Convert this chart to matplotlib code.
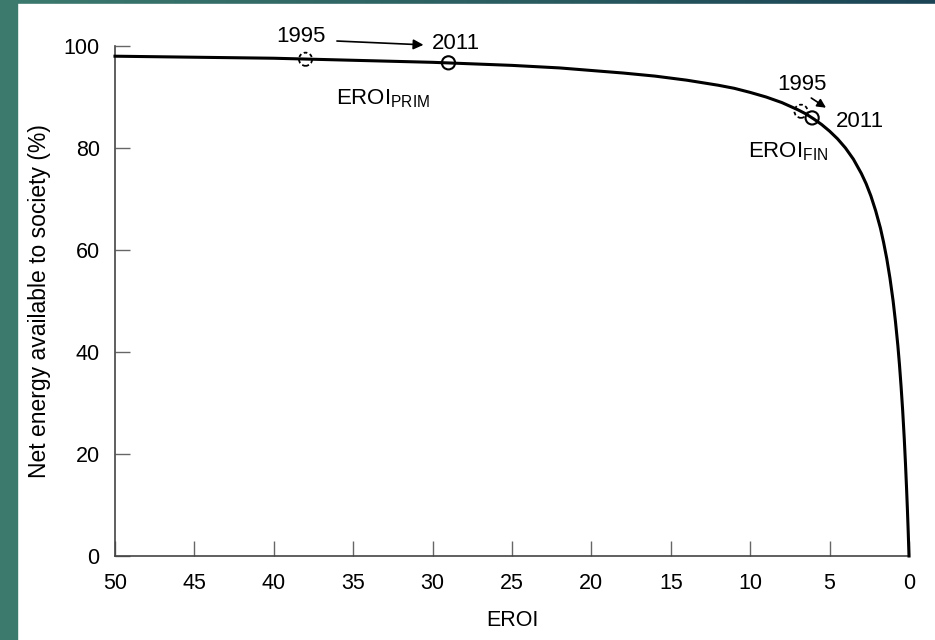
import numpy as np
import matplotlib
matplotlib.use("Agg")
import matplotlib.pyplot as plt

plt.rcParams['font.family'] = ['Liberation Sans', 'DejaVu Sans']

# curve points (EROI, net energy %)
eroi = [50, 45, 40, 35, 30, 25, 22, 20, 18, 16, 14, 12, 11, 10, 9, 8, 7.5, 7,
        6.5, 6, 5.5, 5, 4.5, 4, 3.5, 3, 2.7, 2.4, 2.1, 1.8, 1.6, 1.4, 1.2, 1,
        0.85, 0.7, 0.6, 0.5, 0.4, 0.3, 0.22, 0.15, 0.1, 0.05, 0]
net = [98.0, 97.8, 97.6, 97.2, 96.8, 96.2, 95.7, 95.2, 94.7, 94.1, 93.3, 92.3,
       91.7, 90.9, 90.0, 88.9, 88.2, 87.5, 86.7, 85.7, 84.6, 83.3, 81.8, 80.0,
       77.8, 75.0, 73.0, 70.6, 67.7, 64.3, 61.5, 58.3, 54.5, 50.0, 45.9, 41.2,
       37.5, 33.3, 28.6, 23.1, 18.0, 13.0, 9.1, 4.8, 0]

# marked points (EROI, net energy %)
prim_1995 = (38, 97.4)
prim_2011 = (29, 96.7)
fin_1995 = (6.8, 87.2)
fin_2011 = (6.1, 85.9)

xticks = [50, 45, 40, 35, 30, 25, 20, 15, 10, 5, 0]
yticks = [0, 20, 40, 60, 80, 100]

fig = plt.figure(figsize=(9.35, 6.4), dpi=100)

# slide background: teal strip on the left, gradient strip on top
bg = fig.add_axes([0, 0, 1, 1], zorder=-10)
grad = np.linspace(0, 1, 256)
c0 = np.array([0x3c, 0x7a, 0x6e]) / 255
c1 = np.array([0x1b, 0x44, 0x55]) / 255
img = c0[None, None, :] * (1 - grad[None, :, None]) + c1[None, None, :] * grad[None, :, None]
bg.imshow(img, aspect='auto', extent=[0, 1, 0, 1])
bg.add_patch(plt.Rectangle((17 / 935, 0), 1, 1 - 4 / 640, color='white'))
bg.add_patch(plt.Rectangle((0, 0), 17 / 935, 1, color='#3c7a6e'))
bg.set_xlim(0, 1)
bg.set_ylim(0, 1)
bg.axis('off')

ax = fig.add_axes([115 / 935, 84 / 640, 794 / 935, 510 / 640])
ax.patch.set_alpha(0)
ax.plot(eroi, net, color='black', lw=2.2, clip_on=False, zorder=3,
        solid_joinstyle='round')

# 2011 = solid circle, 1995 = dashed circle
for p in (prim_2011, fin_2011):
    ax.scatter([p[0]], [p[1]], s=90, facecolors='none', edgecolors='black',
               linewidths=1.5, zorder=4)
for p in (prim_1995, fin_1995):
    ax.scatter([p[0]], [p[1]], s=90, facecolors='none', edgecolors='black',
               linewidths=1.3, linestyle=(0, (2, 1.5)), zorder=4)

fs = 16
ax.text(38.3, 101.9, '1995', fontsize=fs, ha='center', va='center')
ax.annotate('', xy=(30.4, 100.2), xytext=(36.2, 101.0), annotation_clip=False,
            arrowprops=dict(arrowstyle='-|>', color='black', lw=1.2, mutation_scale=15))
ax.text(28.5, 100.4, '2011', fontsize=fs, ha='center', va='center')
ax.text(33.1, 89.6, r'EROI$_{\mathregular{PRIM}}$', fontsize=fs, ha='center', va='center')

ax.text(6.76, 92.5, '1995', fontsize=fs, ha='center', va='center')
ax.annotate('', xy=(5.08, 87.6), xytext=(6.3, 90.1), annotation_clip=False,
            arrowprops=dict(arrowstyle='-|>', color='black', lw=1.2, mutation_scale=13))
ax.text(3.1, 85.2, '2011', fontsize=fs, ha='center', va='center')
ax.text(7.6, 79.3, r'EROI$_{\mathregular{FIN}}$', fontsize=fs, ha='center', va='center')

ax.set_xlim(50, 0)
ax.set_ylim(0, 100)
ax.set_xticks(xticks)
ax.set_yticks(yticks)
ax.tick_params(direction='in', length=11, width=1, color='#666666', labelsize=15.5, pad=12)
ax.tick_params(axis='y', pad=11)
for s in ('top', 'right'):
    ax.spines[s].set_visible(False)
for s in ('left', 'bottom'):
    ax.spines[s].set_color('#444444')
    ax.spines[s].set_linewidth(1.2)

ax.set_xlabel('EROI', fontsize=15.5, labelpad=12)
ax.set_ylabel('Net energy available to society (%)', fontsize=16.5, labelpad=9)

fig.savefig('out.png', dpi=100)
